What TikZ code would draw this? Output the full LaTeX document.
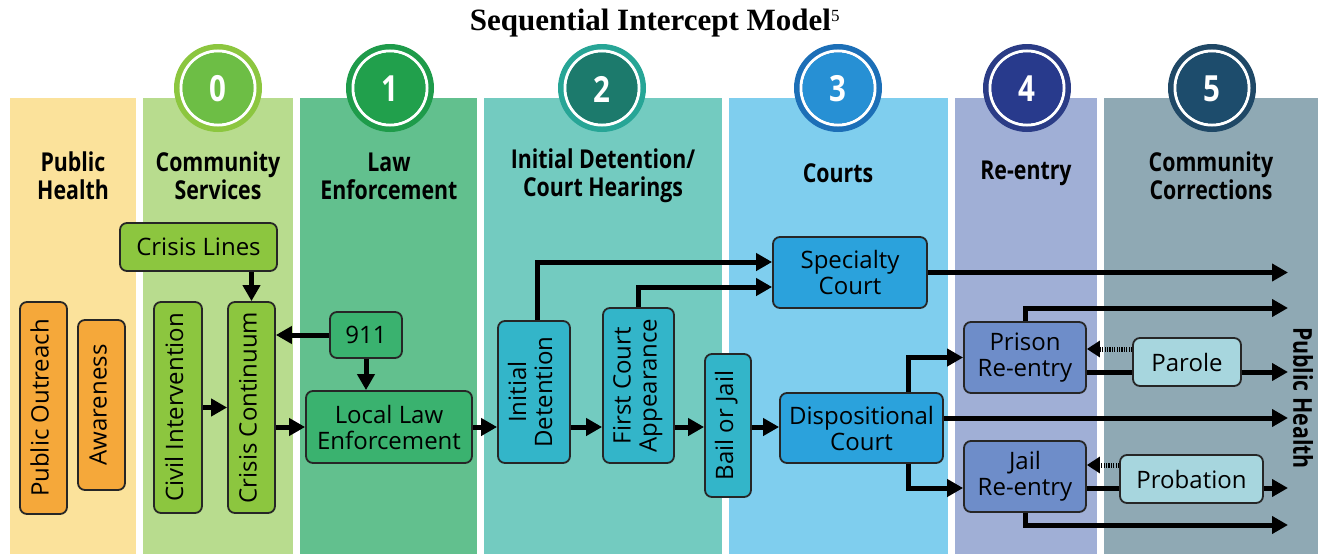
\documentclass[tikz,border=0pt]{standalone}
\usepackage{fontspec}
\setmainfont{Liberation Serif}
\newfontfamily\boxfont{Open Sans}
\newfontfamily\headfont[FakeStretch=0.82]{Open Sans}
\usetikzlibrary{arrows.meta}
\usetikzlibrary{calc}

% column and box colours
\definecolor{colPH}{HTML}{FBE29B}
\definecolor{colCS}{HTML}{B8DC8E}
\definecolor{colLE}{HTML}{62C08E}
\definecolor{colID}{HTML}{73CBC0}
\definecolor{colCO}{HTML}{7FCEEE}
\definecolor{colRE}{HTML}{A0AFD6}
\definecolor{colCC}{HTML}{8FA9B4}
\definecolor{boxPH}{HTML}{F5A83A}
\definecolor{boxCS}{HTML}{8CC63F}
\definecolor{boxLE}{HTML}{3AB26F}
\definecolor{boxID}{HTML}{33B5C9}
\definecolor{boxCO}{HTML}{2BA2DC}
\definecolor{boxRE}{HTML}{6E8DC9}
\definecolor{boxCC}{HTML}{A7D6DE}
\definecolor{boxline}{HTML}{262626}
\definecolor{ring0}{HTML}{8CC63F}\definecolor{core0}{HTML}{6DBE45}
\definecolor{ring1}{HTML}{1E9B4A}\definecolor{core1}{HTML}{21A04C}
\definecolor{ring2}{HTML}{27A596}\definecolor{core2}{HTML}{1C7A6C}
\definecolor{ring3}{HTML}{1C6FB7}\definecolor{core3}{HTML}{2790D4}
\definecolor{ring4}{HTML}{2B3C86}\definecolor{core4}{HTML}{283A8C}
\definecolor{ring5}{HTML}{1F4866}\definecolor{core5}{HTML}{1D4C6C}

\newcommand{\vlabel}[1]{\rotatebox{90}{\begin{tabular}{@{}c@{}}#1\end{tabular}}}

\tikzset{
  box/.style={draw=boxline, line width=1.8pt, rounded corners=7pt, inner sep=0pt,
    align=center, font=\boxfont\fontsize{24}{26}\selectfont},
  sized/.style 2 args={minimum width=#1pt, minimum height=#2pt},
  header/.style={align=center, font=\headfont\bfseries\fontsize{26}{28}\selectfont},
  numtext/.style={text=white, font=\headfont\bfseries\fontsize{36}{36}\selectfont},
  arr/.style={line width=5pt, -{Triangle[length=16pt,width=17pt]}},
  link/.style={line width=5pt},
  dotarr/.style={line width=5pt, dash pattern=on 1.2pt off 1.2pt,
    -{Triangle[length=13pt,width=16pt]}},
}

\begin{document}
\begin{tikzpicture}[x=1pt,y=-1pt]
  \useasboundingbox (0,0) rectangle (1318,554);

  % title
  \node[font=\bfseries\fontsize{31}{34}\selectfont] (title) at (655,23)
    {Sequential Intercept Model\textsuperscript{\mdseries\fontsize{17}{17}\selectfont 5}};

  % columns
  \fill[colPH] (10,98) rectangle (136,554);
  \fill[colCS] (143,98) rectangle (293,554);
  \fill[colLE] (300,98) rectangle (477,554);
  \fill[colID] (484,98) rectangle (722,554);
  \fill[colCO] (729,98) rectangle (948,554);
  \fill[colRE] (955,98) rectangle (1097,554);
  \fill[colCC] (1104,98) rectangle (1318,554);

  % intercept circles
  \foreach \n/\cx in {0/218,1/390,2/602,3/838,4/1027,5/1212} {
    \fill[ring\n] (\cx,88) circle (44);
    \draw[white, line width=3pt] (\cx,88) circle (37);
    \fill[core\n] (\cx,88) circle (35.5);
    \node[numtext] (stage\n) at (\cx,89) {\n};
  }

  % column headers
  \node[header] (hPH) at (73,176) {Public\\Health};
  \node[header] (hCS) at (218,176) {Community\\Services};
  \node[header] (hLE) at (389,176) {Law\\Enforcement};
  \node[header] (hID) at (603,176) {Initial Detention/\\Court Hearings};
  \node[header] (hCO) at (838,173) {Courts};
  \node[header] (hRE) at (1026,173) {Re-entry};
  \node[header] (hCC) at (1211,176) {Community\\Corrections};

  % boxes
  \node[box, fill=boxPH, sized={47}{212}] (po) at (43.5,408) {\vlabel{Public Outreach}};
  \node[box, fill=boxPH, sized={47}{170}] (aw) at (101.5,405) {\vlabel{Awareness}};
  \node[box, fill=boxCS, sized={157}{48}] (cl) at (198.5,247) {Crisis Lines};
  \node[box, fill=boxCS, sized={48}{211}] (civ) at (178,407.5) {\vlabel{Civil Intervention}};
  \node[box, fill=boxCS, sized={47}{211}] (cc) at (251.5,407.5) {\vlabel{Crisis Continuum}};
  \node[box, fill=boxLE, sized={72}{46}] (n911) at (366,335) {911};
  \node[box, fill=boxLE, sized={166}{72}] (lle) at (389,427) {Local Law\\Enforcement};
  \node[box, fill=boxID, sized={72}{142}] (idet) at (534,392) {\vlabel{Initial\\Detention}};
  \node[box, fill=boxID, sized={71}{155}] (fca) at (638.5,385.5) {\vlabel{First Court\\Appearance}};
  \node[box, fill=boxID, sized={46}{143}] (bail) at (728,425.5) {\vlabel{Bail or Jail}};
  \node[box, fill=boxCO, sized={154}{71}] (spec) at (850,272.5) {Specialty\\Court};
  \node[box, fill=boxCO, sized={163}{70}] (disp) at (861.5,428) {Dispositional\\Court};
  \node[box, fill=boxRE, sized={122}{71}] (prison) at (1025,357.5) {Prison\\Re-entry};
  \node[box, fill=boxRE, sized={122}{71}] (jail) at (1025,476.5) {Jail\\Re-entry};
  \node[box, fill=boxCC, sized={108}{48}] (parole) at (1187,362) {Parole};
  \node[box, fill=boxCC, sized={143}{48}] (prob) at (1191.5,479) {Probation};

  \node[header, rotate=-90] (hPHout) at (1303,398) {Public Health};

  % free ends on the right
  \coordinate (out) at (1288,0);
  \coordinate (row) at (lle.east);

  % connectors
  \draw[arr] (cc.north |- cl.south) -- (cc.north);
  \draw[arr] (n911.west) -- (n911.west -| cc.east);
  \draw[arr] (n911.south) -- (n911.south |- lle.north);
  \draw[arr] (civ.east) -- (civ.east -| cc.west);
  \draw[arr] (lle.west -| cc.east) -- (lle.west);
  \draw[arr] (row) -- (row -| idet.west);
  \draw[arr] (row -| idet.east) -- (row -| fca.west);
  \draw[arr] (row -| fca.east) -- (row -| bail.west);
  \draw[arr] (row -| bail.east) -- (row -| disp.west);
  \draw[arr] ([xshift=3pt]idet.north) |- ([yshift=10.5pt]spec.west);
  \draw[arr] (fca.north) |- ([yshift=-14.5pt]spec.west);
  \draw[arr] (spec.east) -- (spec.east -| out);
  \draw[arr] ([yshift=10pt]disp.east) -- ([yshift=10pt]disp.east -| out);
  \draw[arr] ([xshift=-35pt]disp.north east) |- (prison.west);
  \draw[arr] ([xshift=-35pt]disp.south east) |- ([yshift=-11.5pt]jail.west);
  \draw[arr] (prison.north) |- ($(out)+(0,308)$);
  \draw[arr] (jail.south) |- ($(out)+(0,525)$);

  % prison / parole
  \coordinate (r3) at ([yshift=-14.5pt]prison.east);
  \draw[link] (r3) -- (r3 -| parole.west);
  \draw[arr] (r3 -| parole.east) -- (r3 -| out);
  \draw[dotarr] ([yshift=13pt]parole.west) -- ([yshift=13pt]parole.west -| prison.east);

  % jail / probation
  \coordinate (r5) at ([yshift=-11.5pt]jail.east);
  \draw[link] (r5) -- (r5 -| prob.west);
  \draw[arr] (r5 -| prob.east) -- (r5 -| out);
  \draw[dotarr] ([yshift=14pt]prob.west) -- ([yshift=14pt]prob.west -| jail.east);

\end{tikzpicture}
\end{document}
